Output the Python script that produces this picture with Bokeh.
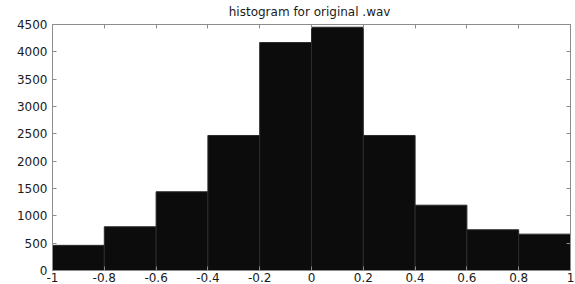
from bokeh.plotting import figure
from bokeh.models import LinearAxis, FixedTicker, CustomJSTickFormatter, CustomLabelingPolicy
from bokeh.embed import file_html
from bokeh.resources import INLINE

# ---- data ----
bin_edges = [-1.0, -0.8, -0.6, -0.4, -0.2, 0.0, 0.2, 0.4, 0.6, 0.8, 1.0]
counts = [460, 800, 1440, 2470, 4170, 4450, 2470, 1195, 745, 665]
x_ticks = [-1.0, -0.8, -0.6, -0.4, -0.2, 0.0, 0.2, 0.4, 0.6, 0.8, 1.0]
y_ticks = [0, 500, 1000, 1500, 2000, 2500, 3000, 3500, 4000, 4500]
title_text = "histogram for original  .wav"

FONT = "DejaVu Sans"
AXIS_COLOR = "#8c8c8c"

p = figure(width=575, height=284, output_backend="svg", toolbar_location=None,
           x_range=(-1, 1), y_range=(0, 4500), title=title_text,
           min_border_left=52, min_border_right=5, min_border_top=24, min_border_bottom=14)

p.title.align = "center"
p.title.text_font = FONT
p.title.text_font_size = "12px"
p.title.text_font_style = "normal"
p.title.text_color = "#1a1a1a"
p.title.standoff = 4
p.title.offset = 0

p.quad(left=bin_edges[:-1], right=bin_edges[1:], bottom=0, top=counts,
       fill_color="#0c0c0c", line_color="#2b2b2b", line_width=1)

p.xgrid.visible = False
p.ygrid.visible = False
p.outline_line_color = AXIS_COLOR
p.outline_line_width = 1

fmt = CustomJSTickFormatter(code="return String(Math.round(tick*10)/10);")
hide_all = CustomLabelingPolicy(code="for (const i of Array.from(indices)) { indices.unset(i) }\nreturn indices")

def style(ax, labels=True):
    ax.axis_line_color = AXIS_COLOR
    ax.major_tick_line_color = AXIS_COLOR
    ax.major_tick_in = 4
    ax.major_tick_out = 0
    ax.minor_tick_line_color = None
    if labels:
        ax.major_label_text_font = FONT
        ax.major_label_text_font_size = "12px"
        ax.major_label_text_color = "#1a1a1a"
    else:
        ax.major_label_policy = hide_all
        ax.major_label_text_font_size = "1px"
        ax.major_label_standoff = 0

p.xaxis.ticker = FixedTicker(ticks=x_ticks)
p.xaxis.formatter = fmt
p.xaxis.major_label_standoff = 2
style(p.xaxis[0])

p.yaxis.ticker = FixedTicker(ticks=y_ticks)
p.yaxis.major_label_standoff = 5
style(p.yaxis[0])

top_ax = LinearAxis(ticker=FixedTicker(ticks=x_ticks))
style(top_ax, labels=False)
p.add_layout(top_ax, "above")

right_ax = LinearAxis(ticker=FixedTicker(ticks=y_ticks))
style(right_ax, labels=False)
p.add_layout(right_ax, "right")

open("out.html", "w").write(file_html(p, INLINE))
